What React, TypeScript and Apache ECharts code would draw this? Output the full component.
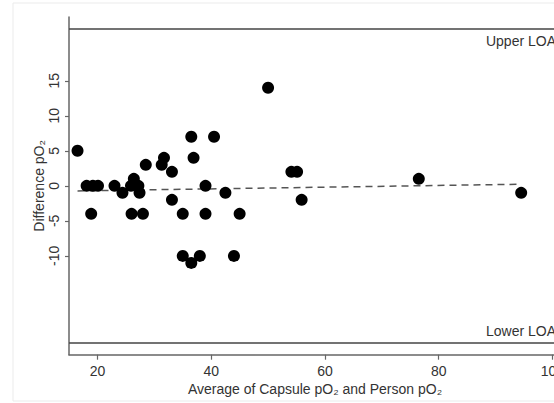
import React, { useEffect, useRef } from "react";
import * as echarts from "echarts";

// Average of Capsule pO2 and Person pO2 (x) vs Difference pO2 (y)
const avgValues: number[] = [
  16.5, 18.1, 19.2, 20.1, 18.9, 23.0, 24.4, 25.9, 26.4, 27.2, 27.4, 26.0,
  28.0, 28.5, 31.3, 31.7, 33.1, 33.1, 35.0, 35.0, 36.5, 38.0, 36.5, 36.9,
  39.0, 39.0, 40.5, 42.5, 44.0, 45.0, 50.0, 54.1, 55.1, 55.9, 76.5, 94.5,
];
const diffValues: number[] = [
  5, 0, 0, 0, -4, 0, -1, 0, 1, 0, -1, -4,
  -4, 3, 3, 4, 2, -2, -4, -10, -11, -10, 7, 4,
  0, -4, 7, -1, -10, -4, 14, 2, 2, -2, 1, -1,
];
// fitted line: diff = fitIntercept + fitSlope * avg
const fitIntercept = -0.92;
const fitSlope = 0.0122;
// limits of agreement
const upperLOA = 22.4;
const lowerLOA = -22.4;
const xTicks: number[] = [20, 40, 60, 80, 100];
const yTicks: number[] = [-10, -5, 0, 5, 10, 15];

const FONT = "'Liberation Sans', Arial, sans-serif";

export default function App() {
  const ref = useRef<HTMLDivElement>(null);
  useEffect(() => {
    if (!ref.current) return;
    const chart = echarts.init(ref.current, undefined, { renderer: "svg" });
    const points = avgValues.map((x, i) => [x, diffValues[i]]);
    const xMin = Math.min(...avgValues);
    const xMax = Math.max(...avgValues);
    const fitData = [
      [xMin, fitIntercept + fitSlope * xMin],
      [xMax, fitIntercept + fitSlope * xMax],
    ];
    chart.setOption({
      animation: false,
      backgroundColor: "#fff",
      textStyle: { fontFamily: FONT },
      graphic: [
        {
          type: "rect",
          shape: { x: 13, y: 3, width: 600, height: 398 },
          style: { fill: "none", stroke: "#ebebeb", lineWidth: 1 },
          silent: true,
          z: -1,
        },
      ],
      grid: {
        left: 69,
        top: 17,
        bottom: 48.3,
        right: -7,
        outerBoundsMode: "none",
        containLabel: false,
      },
      xAxis: {
        type: "value",
        min: 15,
        max: 101.5,
        name: "Average of Capsule pO₂ and Person pO₂",
        nameLocation: "middle",
        nameGap: 27,
        nameMoveOverlap: false,
        nameTextStyle: { fontSize: 14, color: "#333", fontFamily: FONT },
        axisLine: {
          show: true,
          onZero: false,
          lineStyle: { color: "#666", width: 1.5 },
        },
        axisTick: {
          show: true,
          length: 5,
          customValues: xTicks,
          lineStyle: { color: "#666", width: 1.2 },
        },
        axisLabel: {
          customValues: xTicks,
          fontSize: 14,
          color: "#333",
          margin: 9,
          fontFamily: FONT,
          showMaxLabel: true,
        },
        splitLine: { show: false },
      },
      yAxis: {
        type: "value",
        min: -24.1,
        max: 24.1,
        name: "Difference pO₂",
        nameLocation: "middle",
        nameGap: 23,
        nameMoveOverlap: false,
        nameTextStyle: { fontSize: 14, color: "#333", fontFamily: FONT },
        axisLine: {
          show: true,
          onZero: false,
          lineStyle: { color: "#666", width: 1.5 },
        },
        axisTick: {
          show: true,
          length: 4,
          customValues: yTicks,
          lineStyle: { color: "#666", width: 1.2 },
        },
        axisLabel: {
          customValues: yTicks,
          rotate: 90,
          fontSize: 14,
          color: "#333",
          margin: 8,
          fontFamily: FONT,
        },
        splitLine: { show: false },
      },
      series: [
        {
          type: "line",
          data: fitData,
          symbol: "none",
          lineStyle: { color: "#555", width: 1.5, type: [7, 5] },
          z: 1,
          silent: true,
        },
        {
          type: "scatter",
          data: points,
          symbol: "circle",
          symbolSize: 12,
          itemStyle: { color: "#000", opacity: 1 },
          z: 3,
          markLine: {
            silent: true,
            symbol: "none",
            animation: false,
            lineStyle: { type: "solid", color: "#444", width: 1.5 },
            label: {
              fontSize: 14,
              color: "#333",
              fontFamily: FONT,
              distance: 5,
            },
            data: [
              {
                yAxis: upperLOA,
                label: { formatter: "Upper LOA", position: "insideEndBottom" },
              },
              {
                yAxis: lowerLOA,
                label: { formatter: "Lower LOA", position: "insideEndTop" },
              },
            ],
          },
        },
      ],
    });
    return () => chart.dispose();
  }, []);
  return (
    <div
      ref={ref}
      style={{ position: "fixed", left: 0, top: 0, width: 554, height: 403 }}
    />
  );
}
